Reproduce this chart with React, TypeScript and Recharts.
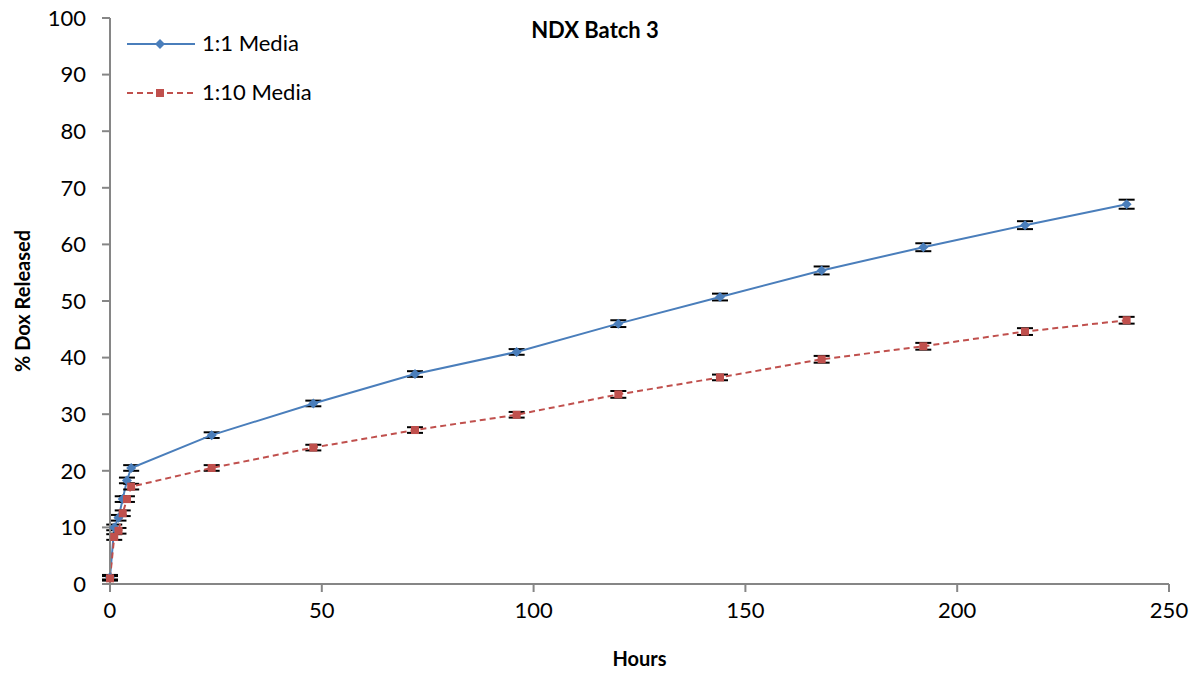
import React from 'react';
import { LineChart, Line, XAxis, YAxis, ErrorBar } from 'recharts';

const hours = [0, 1, 2, 3, 4, 5, 24, 48, 72, 96, 120, 144, 168, 192, 216, 240];
const media1to1 = [1.2, 10, 11.7, 15, 18.3, 20.5, 26.3, 31.9, 37.1, 41, 46, 50.7, 55.4, 59.5, 63.4, 67.1];
const media1to1Err = [0.4, 0.5, 0.5, 0.5, 0.5, 0.5, 0.5, 0.5, 0.5, 0.5, 0.6, 0.6, 0.7, 0.7, 0.7, 0.8];
const media1to10 = [1.0, 8.3, 9.4, 12.5, 15, 17.2, 20.5, 24.1, 27.2, 29.9, 33.5, 36.5, 39.7, 42, 44.6, 46.6];
const media1to10Err = [0.4, 0.5, 0.5, 0.5, 0.5, 0.5, 0.5, 0.5, 0.5, 0.5, 0.6, 0.5, 0.6, 0.6, 0.6, 0.6];
const xTicks = [0, 50, 100, 150, 200, 250];
const yTicks = [0, 10, 20, 30, 40, 50, 60, 70, 80, 90, 100];

const data = hours.map((h, i) => ({
  hour: h,
  a: media1to1[i],
  aErr: media1to1Err[i],
  b: media1to10[i],
  bErr: media1to10Err[i],
}));

const BLUE = '#4A7EBB';
const RED = '#C0504D';
const AXIS = '#868686';
const FONT = 'Lato, "Open Sans", sans-serif';

const Diamond = (props: any) => {
  const { cx, cy, key } = props;
  if (cx == null || cy == null) return null;
  const r = 5;
  return <path key={key} d={`M${cx},${cy - r}L${cx + r},${cy}L${cx},${cy + r}L${cx - r},${cy}Z`} fill={BLUE} />;
};

const Square = (props: any) => {
  const { cx, cy, key } = props;
  if (cx == null || cy == null) return null;
  return <rect key={key} x={cx - 4} y={cy - 4} width={8} height={8} fill={RED} />;
};

const LegendBox = () => (
  <svg width={240} height={90}>
    <line x1={7} y1={24} x2={75} y2={24} stroke={BLUE} strokeWidth={2} />
    <path d="M40,19L45,24L40,29L35,24Z" fill={BLUE} />
    <text x={82} y={31} fontSize={22} fontFamily={FONT} fill="#000">1:1 Media</text>
    <line x1={7} y1={73} x2={75} y2={73} stroke={RED} strokeWidth={2} strokeDasharray="6 4" />
    <rect x={36} y={69} width={8} height={8} fill={RED} />
    <text x={82} y={80} fontSize={22} fontFamily={FONT} fill="#000">1:10 Media</text>
  </svg>
);

export default function App() {
  return (
    <div style={{ position: 'absolute', left: 0, top: 0, width: 1200, height: 677, background: '#fff', fontFamily: FONT }}>
      <LineChart width={1200} height={677} data={data} margin={{ top: 18, right: 31, left: 0, bottom: 43 }}>
        <XAxis
          dataKey="hour"
          type="number"
          domain={[0, 250]}
          ticks={xTicks}
          stroke={AXIS}
          strokeWidth={2}
          tickSize={8}
          tickMargin={10}
          height={50}
          tick={{ fill: '#000', fontSize: 22, fontFamily: FONT }}
        />
        <YAxis
          type="number"
          domain={[0, 100]}
          ticks={yTicks}
          stroke={AXIS}
          strokeWidth={2}
          tickSize={8}
          tickMargin={16}
          width={110}
          tick={{ fill: '#000', fontSize: 22, fontFamily: FONT }}
        />
        <Line
          dataKey="a"
          name="1:1 Media"
          stroke={BLUE}
          strokeWidth={2}
          dot={Diamond}
          activeDot={false}
          isAnimationActive={false}
        >
          <ErrorBar dataKey="aErr" direction="y" width={8} stroke="#000" strokeWidth={2} />
        </Line>
        <Line
          dataKey="b"
          name="1:10 Media"
          stroke={RED}
          strokeWidth={2}
          strokeDasharray="6 4"
          dot={Square}
          activeDot={false}
          isAnimationActive={false}
        >
          <ErrorBar dataKey="bErr" direction="y" width={8} stroke="#000" strokeWidth={2} />
        </Line>
      </LineChart>
      <div style={{ position: 'absolute', left: 120, top: 20 }}>
        <LegendBox />
      </div>
      <div style={{ position: 'absolute', left: 0, top: 16, width: 1190, textAlign: 'center', fontWeight: 'bold', fontSize: 22 }}>
        NDX Batch 3
      </div>
      <div style={{ position: 'absolute', left: 110, top: 646, width: 1059, textAlign: 'center', fontWeight: 'bold', fontSize: 20 }}>
        Hours
      </div>
      <div
        style={{
          position: 'absolute',
          left: 22,
          top: 301,
          transform: 'translate(-50%, -50%) rotate(-90deg)',
          whiteSpace: 'nowrap',
          fontWeight: 'bold',
          fontSize: 20,
        }}
      >
        % Dox Released
      </div>
    </div>
  );
}
